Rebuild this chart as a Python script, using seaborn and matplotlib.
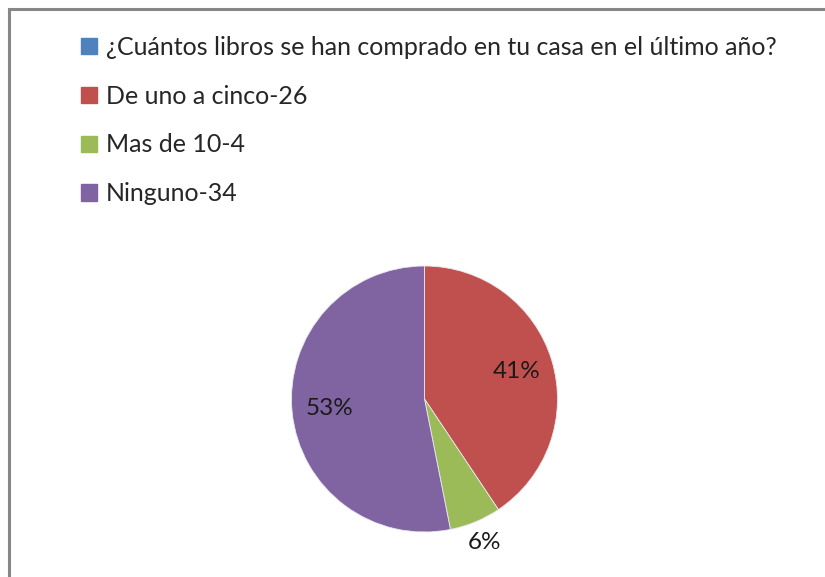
import matplotlib
matplotlib.use("Agg")
import matplotlib.pyplot as plt
import seaborn as sns
from matplotlib.patches import Patch, Rectangle

categories = ["¿Cuántos libros se han comprado en tu casa en el último año?",
              "De uno a cinco-26", "Mas de 10-4", "Ninguno-34"]
values = [0, 26, 4, 34]
colors = ["#4F81BD", "#C0504D", "#9BBB59", "#8064A2"]

sns.set_theme(style="white")
plt.rcParams['font.family'] = ['Lato', 'DejaVu Sans']

W, H = 825, 577
fig = plt.figure(figsize=(W / 100, H / 100), dpi=100)
fig.patch.set_facecolor("white")

cx, cy, R = 424.5, 399, 133
ax = fig.add_axes([(cx - R) / W, (H - cy - R) / H, 2 * R / W, 2 * R / H])

total = sum(values)
def fmt(p):
    return "" if p < 0.5 else f"{p:.0f}%"

wedges, texts, autotexts = ax.pie(values, colors=colors, startangle=90, counterclock=False,
                                  autopct=fmt, pctdistance=0.72,
                                  wedgeprops=dict(edgecolor="#e8e8f0", linewidth=0.6),
                                  textprops=dict(fontsize=17.5, color="#1a1a1a"))
for v, t in zip(values, autotexts):
    if 0 < v / total < 0.1:
        x, y = t.get_position()
        s = 1.17 / 0.72
        t.set_position((x * s, y * s))
ax.set_xlim(-1, 1)
ax.set_ylim(-1, 1)
ax.set_aspect("equal")
ax.axis("off")

handles = [Patch(facecolor=c, edgecolor=c) for c in colors]
fig.legend(handles, categories, loc="upper left", bbox_to_anchor=(81 / W, 1 - 36 / H),
           frameon=False, fontsize=18, handlelength=0.62, handleheight=0.62,
           handletextpad=0.38, labelspacing=1.03, borderaxespad=0, borderpad=0)

fig.add_artist(Rectangle((9 / W, -0.1), 1.2, 1 - 9 / H + 0.1, transform=fig.transFigure,
                         fill=False, edgecolor="#878787", linewidth=2.2))

fig.savefig("out.png", dpi=100)
